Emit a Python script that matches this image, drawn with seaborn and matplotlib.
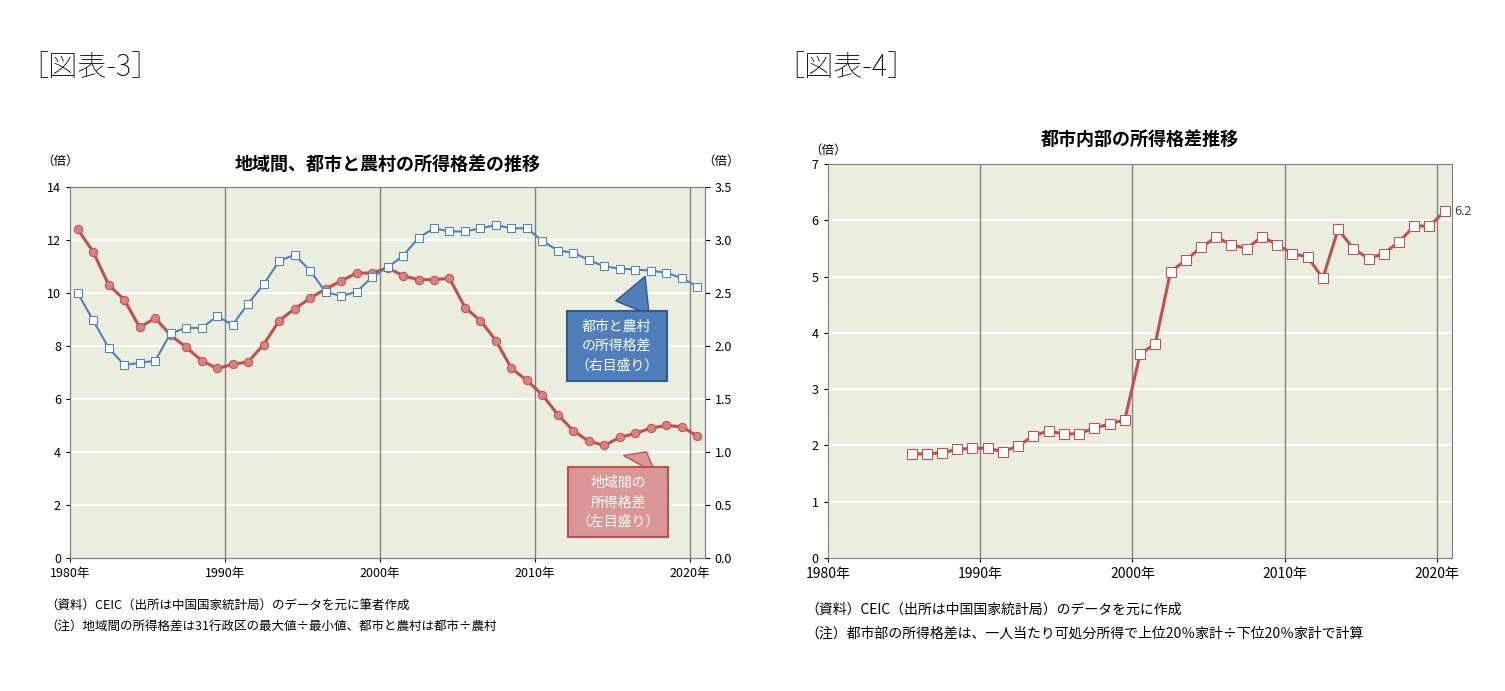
import matplotlib
matplotlib.use("Agg")
import matplotlib.pyplot as plt
import numpy as np
import pandas as pd
import seaborn as sns

plt.rcParams["font.family"] = ["Noto Sans CJK JP", "DejaVu Sans"]

# figure 3 data (annual, plotted at mid-year)
years3 = list(range(1980, 2021))
regional = [12.4, 11.55, 10.3, 9.75, 8.7, 9.05, 8.4, 7.95, 7.45, 7.15,
            7.3, 7.4, 8.05, 8.95, 9.4, 9.8, 10.15, 10.45, 10.75, 10.75,
            10.95, 10.65, 10.5, 10.5, 10.55, 9.45, 8.95, 8.2, 7.15, 6.7,
            6.15, 5.4, 4.8, 4.4, 4.25, 4.55, 4.7, 4.9, 5.0, 4.95, 4.6]
urban_rural = [2.5, 2.24, 1.98, 1.82, 1.84, 1.86, 2.12, 2.17, 2.17, 2.28,
               2.2, 2.4, 2.58, 2.8, 2.86, 2.71, 2.51, 2.47, 2.51, 2.65,
               2.74, 2.85, 3.02, 3.11, 3.08, 3.08, 3.11, 3.14, 3.11, 3.11,
               2.99, 2.9, 2.88, 2.81, 2.75, 2.73, 2.72, 2.71, 2.69, 2.64, 2.56]

# figure 4 data
years4 = list(range(1985, 2021))
urban_gap = [1.85, 1.85, 1.87, 1.93, 1.95, 1.95, 1.89, 1.99, 2.17, 2.26,
             2.20, 2.21, 2.31, 2.38, 2.46, 3.62, 3.81, 5.09, 5.29, 5.52,
             5.70, 5.57, 5.50, 5.71, 5.57, 5.41, 5.35, 4.97, 5.84, 5.50,
             5.32, 5.41, 5.62, 5.90, 5.90, 6.16]

decade_ticks = [1980, 1990, 2000, 2010, 2020]
decade_labels = ["1980年", "1990年", "2000年", "2010年", "2020年"]

RED = "#C0504D"
BLUE = "#4F81BD"
BG = "#EBEEDF"

df3 = pd.DataFrame({"x": np.array(years3) + 0.5, "regional": regional, "ur": urban_rural})
df4 = pd.DataFrame({"x": np.array(years4) + 0.5, "gap": urban_gap})

fig = plt.figure(figsize=(15.05, 6.91), dpi=100)


def style_axes(ax, ylim, yticks):
    ax.set_facecolor(BG)
    ax.set_xlim(1980, 2021)
    ax.set_ylim(*ylim)
    ax.set_yticks(yticks)
    ax.set_xticks(decade_ticks)
    ax.set_xticklabels(decade_labels, fontsize=9)
    ax.tick_params(axis="y", labelsize=9, length=3)
    ax.tick_params(axis="x", length=3)
    for y in yticks[1:-1]:
        ax.axhline(y, color="white", lw=1.5, zorder=1)
    for x in decade_ticks[1:]:
        ax.axvline(x, color="#808080", lw=1, zorder=1)
    for s in ax.spines.values():
        s.set_color("#808080")


# ---- left chart
ax1 = fig.add_axes([0.0465, 0.1925, 0.422, 0.537])
style_axes(ax1, (0, 14), list(range(0, 15, 2)))
sns.lineplot(data=df3, x="x", y="regional", ax=ax1, color=RED, lw=2.2,
             marker="o", markersize=6, markeredgecolor=RED, markerfacecolor="#D9837F", zorder=3)
ax1.set_xlabel("")
ax1.set_ylabel("")
ax2 = ax1.twinx()
ax2.set_ylim(0, 3.5)
ax2.set_yticks(np.arange(0, 3.51, 0.5))
ax2.set_yticklabels([f"{v:.1f}" for v in np.arange(0, 3.51, 0.5)], fontsize=9)
sns.lineplot(data=df3, x="x", y="ur", ax=ax2, color=BLUE, lw=1.5,
             marker="s", markersize=6, markeredgecolor=BLUE, markerfacecolor="white", zorder=3)
ax2.set_xlabel("")
ax2.set_ylabel("")
for s in ax2.spines.values():
    s.set_color("#808080")
ax1.set_title("地域間、都市と農村の所得格差の推移", fontsize=13, fontweight="bold", pad=12)
ax1.text(-0.045, 1.06, "（倍）", transform=ax1.transAxes, fontsize=9)
ax1.text(0.995, 1.06, "（倍）", transform=ax1.transAxes, fontsize=9)

# callouts
ax2.annotate("都市と農村\nの所得格差\n（右目盛り）", xy=(2017.2, 2.68), xytext=(2015.3, 2.0),
             ha="center", va="center", color="white", fontsize=10, linespacing=1.5,
             bbox=dict(boxstyle="square,pad=0.6", fc="#4F7EBB", ec="#2F5A8F", lw=1.5),
             arrowprops=dict(arrowstyle="wedge,tail_width=2.6,shrink_factor=0.5",
                             fc="#4F7EBB", ec="#2F5A8F"))
ax1.annotate("地域間の\n所得格差\n（左目盛り）", xy=(2017.3, 4.1), xytext=(2015.4, 2.1),
             ha="center", va="center", color="white", fontsize=10, linespacing=1.5,
             bbox=dict(boxstyle="square,pad=0.6", fc="#D99694", ec="#C0504D", lw=1.5),
             arrowprops=dict(arrowstyle="wedge,tail_width=2.6,shrink_factor=0.5",
                             fc="#D99694", ec="#C0504D"))

# ---- right chart
ax3 = fig.add_axes([0.550, 0.1925, 0.415, 0.570])
style_axes(ax3, (0, 7), list(range(0, 8)))
sns.lineplot(data=df4, x="x", y="gap", ax=ax3, color=RED, lw=2.2,
             marker="s", markersize=7, markeredgecolor=RED, markerfacecolor="white", zorder=3)
ax3.set_xlabel("")
ax3.set_ylabel("")
ax3.set_xticklabels(decade_labels, fontsize=10)
ax3.set_title("都市内部の所得格差推移", fontsize=13, fontweight="bold", pad=14)
ax3.text(-0.03, 1.025, "（倍）", transform=ax3.transAxes, fontsize=9)
ax3.text(df4["x"].iloc[-1] + 0.6, urban_gap[-1], f"{urban_gap[-1]:.1f}", fontsize=9,
         va="center", color="#404040")

# headers and notes
fig.text(0.013, 0.89, "［図表-3］", fontsize=21, fontweight="light")
fig.text(0.515, 0.89, "［図表-4］", fontsize=21, fontweight="light")
fig.text(0.03, 0.117, "（資料）CEIC（出所は中国国家統計局）のデータを元に筆者作成", fontsize=9)
fig.text(0.03, 0.088, "（注）地域間の所得格差は31行政区の最大値÷最小値、都市と農村は都市÷農村", fontsize=9)
fig.text(0.535, 0.112, "（資料）CEIC（出所は中国国家統計局）のデータを元に作成", fontsize=10)
fig.text(0.535, 0.077, "（注）都市部の所得格差は、一人当たり可処分所得で上位20％家計÷下位20％家計で計算", fontsize=10)

fig.savefig("out.png", dpi=100, facecolor="white")
